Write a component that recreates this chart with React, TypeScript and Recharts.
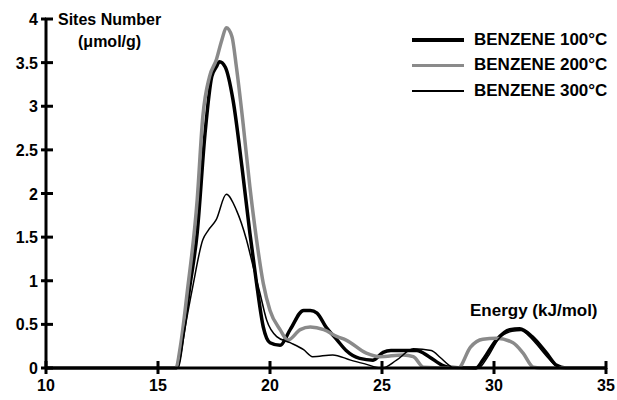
import React from 'react';
import { LineChart, Line, XAxis, YAxis } from 'recharts';

// Energy (kJ/mol) and site numbers (umol/g)
const x100 = [10, 15.8, 16.1, 16.4, 16.75, 17.1, 17.4, 17.6, 17.75, 18.0, 18.35, 18.75, 19.1, 19.4, 19.7, 20.0, 20.45, 20.9, 21.5, 21.8, 22.1, 22.5, 23.0, 23.4, 24.0, 24.6, 25.05, 25.4, 26.0, 26.55, 27.1, 27.7, 28.0, 29.2, 29.5, 30.1, 30.7, 31.15, 31.7, 32.35, 32.8, 33.2, 35];
const y100 = [0, 0, 0.35, 0.9, 1.55, 2.69, 3.34, 3.45, 3.51, 3.45, 3.07, 2.3, 1.55, 0.97, 0.47, 0.29, 0.26, 0.44, 0.66, 0.66, 0.63, 0.47, 0.32, 0.2, 0.11, 0.09, 0.18, 0.2, 0.2, 0.2, 0.13, 0.03, 0.01, 0, 0.09, 0.32, 0.44, 0.45, 0.36, 0.17, 0.03, 0, 0];

const x200 = [10, 15.8, 16.0, 16.3, 16.75, 17.0, 17.3, 17.6, 17.85, 18.05, 18.3, 18.5, 18.8, 19.1, 19.4, 19.7, 20.0, 20.45, 20.8, 21.35, 21.8, 22.4, 23.0, 23.4, 24.3, 24.9, 25.95, 26.4, 26.85, 28.4, 28.95, 29.5, 30.1, 30.85, 31.3, 31.75, 32.1, 35];
const y200 = [0, 0, 0.25, 0.86, 1.93, 2.88, 3.34, 3.53, 3.76, 3.9, 3.8, 3.45, 2.8, 2.08, 1.47, 0.97, 0.66, 0.44, 0.32, 0.44, 0.47, 0.44, 0.36, 0.32, 0.17, 0.13, 0.15, 0.13, 0.01, 0, 0.24, 0.33, 0.34, 0.29, 0.17, 0.01, 0, 0];

const x300 = [10, 15.9, 16.2, 16.55, 17.0, 17.25, 17.6, 18.05, 18.5, 18.95, 19.25, 19.55, 19.85, 20.3, 20.9, 21.5, 21.9, 22.8, 23.6, 24.2, 25.0, 25.65, 26.4, 27.2, 27.6, 28.0, 28.2, 29.3, 29.7, 30.2, 30.8, 31.2, 31.7, 32.3, 32.8, 33.1, 35];
const y300 = [0, 0, 0.45, 0.93, 1.47, 1.58, 1.7, 1.99, 1.81, 1.47, 1.16, 0.86, 0.55, 0.36, 0.29, 0.21, 0.13, 0.15, 0.09, 0.05, 0, 0.09, 0.22, 0.2, 0.12, 0.03, 0, 0, 0.12, 0.33, 0.42, 0.43, 0.33, 0.15, 0.02, 0, 0];

const xTicks = [10, 15, 20, 25, 30, 35];
const yTicks = [0, 0.5, 1, 1.5, 2, 2.5, 3, 3.5, 4];

const toPoints = (xs: number[], ys: number[]) => xs.map((x, i) => ({ x, y: ys[i] }));

const series = [
  { name: 'BENZENE 100°C', data: toPoints(x100, y100), color: '#000', width: 3.5 },
  { name: 'BENZENE 200°C', data: toPoints(x200, y200), color: '#8a8a8a', width: 3.5 },
  { name: 'BENZENE 300°C', data: toPoints(x300, y300), color: '#000', width: 1.5 },
];

const FONT = '"Liberation Sans", Arial, sans-serif';
const TICK_LINE = { stroke: '#000', strokeWidth: 3 };

// the outer half of each tick mark is the axis tickLine, the inner half is drawn here
const renderYTick = (props: any) => {
  const x = Number(props.x);
  const y = Number(props.y);
  return (
    <g>
      <path d={`M${x + 7},${y}h8`} stroke="#000" strokeWidth={3} fill="none" />
      <text x={x} y={y} dy={6} textAnchor="end" fontFamily={FONT} fontWeight="bold" fontSize={16} fill="#000">
        {props.payload.value}
      </text>
    </g>
  );
};

const renderXTick = (props: any) => {
  const x = Number(props.x);
  const y = Number(props.y);
  return (
    <g>
      <path d={`M${x},${y - 17}v8`} stroke="#000" strokeWidth={3} fill="none" />
      <text x={x} y={y} dy={13} textAnchor="middle" fontFamily={FONT} fontWeight="bold" fontSize={16} fill="#000">
        {props.payload.value}
      </text>
    </g>
  );
};

export default function App() {
  return (
    <div style={{ position: 'absolute', left: 0, top: 0, width: 617, height: 400, background: '#fff' }}>
      <LineChart width={617} height={400} margin={{ top: 19, right: 11, bottom: 0, left: 0 }}>
        <XAxis
          type="number"
          dataKey="x"
          domain={[10, 35]}
          ticks={xTicks}
          height={32}
          tickSize={6}
          tickMargin={4}
          tickLine={TICK_LINE}
          axisLine={{ stroke: '#000', strokeWidth: 3 }}
          tick={renderXTick}
        />
        <YAxis
          type="number"
          domain={[0, 4]}
          ticks={yTicks}
          width={46}
          tickSize={5}
          tickMargin={3}
          tickLine={TICK_LINE}
          axisLine={{ stroke: '#000', strokeWidth: 3 }}
          tick={renderYTick}
        />
        {series.map((s) => (
          <Line
            key={s.name}
            data={s.data}
            dataKey="y"
            name={s.name}
            type="monotone"
            stroke={s.color}
            strokeWidth={s.width}
            dot={false}
            isAnimationActive={false}
          />
        ))}
      </LineChart>
      <div style={{ position: 'absolute', left: 412, top: 27, fontFamily: FONT, fontWeight: 'bold', fontSize: 17 }}>
        {series.map((s) => (
          <div key={s.name} style={{ display: 'flex', alignItems: 'center', height: 25.5 }}>
            <div style={{ width: 52, height: s.width, background: s.color, marginRight: 10 }} />
            <span>{s.name}</span>
          </div>
        ))}
      </div>
      <div style={{ position: 'absolute', left: 58, top: 9, fontFamily: FONT, fontWeight: 'bold', fontSize: 16, lineHeight: '22px', textAlign: 'center' }}>
        <div>Sites Number</div>
        <div>(μmol/g)</div>
      </div>
      <div style={{ position: 'absolute', left: 470, top: 300, fontFamily: FONT, fontWeight: 'bold', fontSize: 17, lineHeight: '22px' }}>
        Energy (kJ/mol)
      </div>
    </div>
  );
}
